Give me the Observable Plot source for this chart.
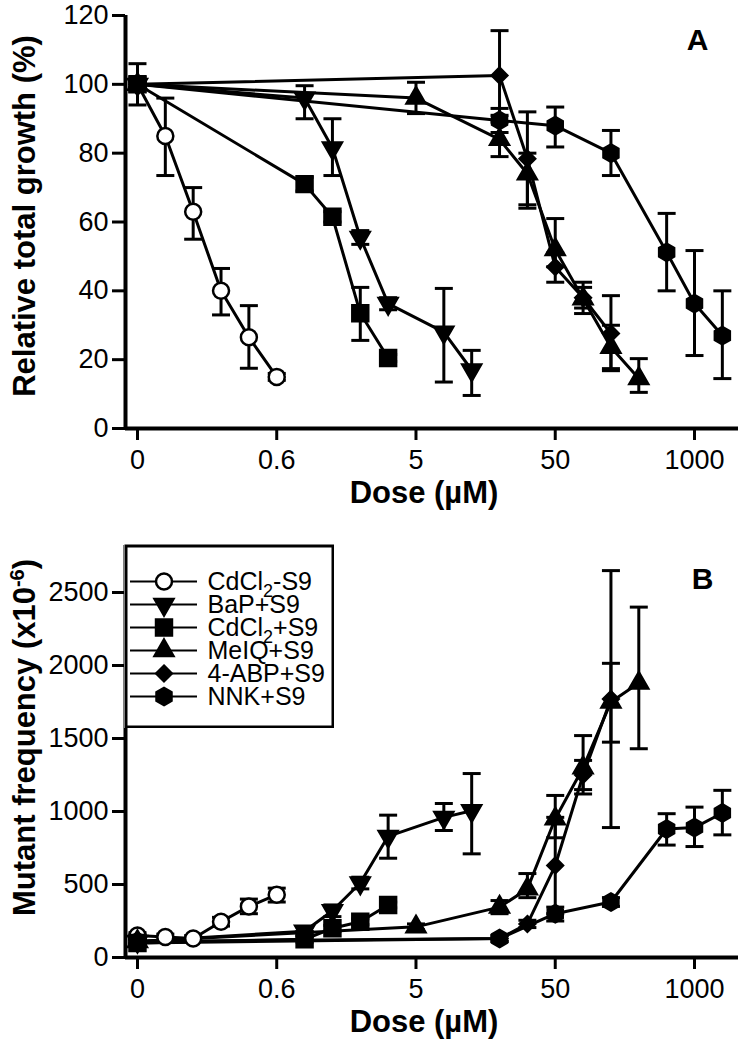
<!DOCTYPE html>
<html><head><meta charset="utf-8">
<script src="https://cdn.jsdelivr.net/npm/d3@7"></script>
<script src="https://cdn.jsdelivr.net/npm/@observablehq/plot@0.6"></script>
<style>
body{margin:0;background:#fff;font-family:"Liberation Sans",Arial,sans-serif;}
#wrap{position:relative;width:743px;height:1050px;}
#legend{position:absolute;left:124px;top:544px;}
</style></head><body><div id="wrap"></div>
<script>
// Axis: doses placed on an evenly spaced (broken) dose axis; tick positions and labels
const doseTicks = [0, 1, 2, 3, 4];
const doseTickLabels = ["0", "0.6", "5", "50", "1000"];
const seriesNames = ["CdCl2-S9", "BaP+S9", "CdCl2+S9", "MeIQ+S9", "4-ABP+S9", "NNK+S9"];

// Panel A: relative total growth (%)  rows: [dose position on axis, mean, lower, upper]
const growthCdCl2Minus = [[0,100,98,102],[0.2,85,73.5,96],[0.4,63,55,70],[0.6,40,33,46.5],[0.8,26.5,17.5,35.7],[1.0,15,14,16]];
const growthBaP = [[0,100,99,101],[1.2,96,90,99.6],[1.4,81.5,73.5,90],[1.6,55.5,53.5,57.5],[1.8,36.3,34.5,38],[2.2,28,13.5,40.7],[2.4,17,9.6,22.7]];
const growthCdCl2Plus = [[0,100,94,106],[1.2,71,69,73],[1.4,61.5,60,63],[1.6,33.5,25.6,41],[1.8,20.5,19.5,21.5]];
const growthMeIQ = [[0,100,99,101],[2.0,96,91.5,100.6],[2.6,84,79,91],[2.8,74,65,80],[3.0,52,47,61],[3.2,37.7,33.4,42.5],[3.4,23.6,16.8,30],[3.6,14.5,10.5,20.3]];
const growth4ABP = [[0,100,99,101],[2.6,102.6,89,115.6],[2.8,78.4,64,92],[3.0,46.9,42.5,51],[3.2,38,35,41],[3.4,27.6,17.4,38.6]];
const growthNNK = [[0,100,99,101],[2.6,89.5,86,93],[3.0,88,81.8,93.4],[3.4,80,73.5,86.6],[3.8,51.2,40,62.5],[4.0,36.3,21.2,51.7],[4.2,27,14.5,40]];

// Panel B: mutant frequency (x10^-6)
const mutCdCl2Minus = [[0,150,130,170],[0.2,140,120,160],[0.4,130,110,150],[0.6,245,215,275],[0.8,350,300,400],[1.0,430,380,475]];
const mutBaP = [[0,110,95,125],[1.2,180,150,210],[1.4,320,280,360],[1.6,510,470,550],[1.8,830,680,975],[2.2,960,870,1055],[2.4,1005,710,1260]];
const mutCdCl2Plus = [[0,100,85,115],[1.2,125,105,145],[1.4,200,180,220],[1.6,245,225,265],[1.8,360,340,380]];
const mutMeIQ = [[0,110,95,125],[2.0,210,190,230],[2.6,345,300,390],[2.8,470,410,575],[3.0,950,820,1110],[3.2,1300,1120,1520],[3.4,1750,1475,2015],[3.6,1880,1430,2400]];
const mut4ABP = [[0,100,85,115],[2.6,130,110,150],[2.8,230,205,255],[3.0,630,300,960],[3.2,1250,1150,1350],[3.4,1770,890,2650]];
const mutNNK = [[0,110,95,125],[2.6,130,110,150],[3.0,300,250,345],[3.4,380,350,410],[3.8,880,770,985],[4.0,890,760,1030],[4.2,990,840,1145]];

const growthTicks = [0, 20, 40, 60, 80, 100, 120];
const mutTicks = [0, 500, 1000, 1500, 2000, 2500];

// styles
const markerStyles = [
  {symbol: "circle", fill: "white", r: 8},
  {symbol: "triangle", fill: "black", r: 7, rotate: 180},
  {symbol: "square", fill: "black", r: 9},
  {symbol: "triangle", fill: "black", r: 7},
  {symbol: "diamond2", fill: "black", r: 7},
  {symbol: "hexagon", fill: "black", r: 7.5}
];
const capSymbol = {draw(ctx, size) { const w = Math.sqrt(size / Math.PI); ctx.moveTo(-w, 0); ctx.lineTo(w, 0); }};
const font = '"Liberation Sans", Arial, sans-serif';
const xDomain = [-0.086, 4.316];

function toRows(sets) {
  return sets.flatMap((s, i) => s.map(([x, y, lo, hi]) => ({series: seriesNames[i], x, y, lo, hi})));
}

function panel({rows, yDomain, yTicks, yLabel, tag, marginTop, marginBottom, tagDx, tagDy, labelDy}) {
  const marks = [
    Plot.line(rows, {x: "x", y: "y", z: "series", stroke: "black", strokeWidth: 3}),
    Plot.ruleX(rows, {x: "x", y1: "lo", y2: "hi", stroke: "black", strokeWidth: 3}),
    Plot.dot(rows, {x: "x", y: "lo", symbol: capSymbol, r: 9, stroke: "black", strokeWidth: 3, fill: "none"}),
    Plot.dot(rows, {x: "x", y: "hi", symbol: capSymbol, r: 9, stroke: "black", strokeWidth: 3, fill: "none"}),
    ...markerStyles.map((st, i) => Plot.dot(rows.filter(d => d.series === seriesNames[i]), {
      x: "x", y: "y", symbol: st.symbol, r: st.r, rotate: st.rotate || 0,
      fill: st.fill, stroke: "black", strokeWidth: 2.5
    })),
    Plot.ruleY([0], {stroke: "black", strokeWidth: 4}),
    Plot.ruleX([xDomain[0]], {stroke: "black", strokeWidth: 4}),
    Plot.axisX({ticks: doseTicks, tickFormat: i => doseTickLabels[i], tickSize: 12, tickPadding: 9, strokeWidth: 3, fontSize: 27, label: null}),
    Plot.axisY({ticks: yTicks, tickFormat: d => String(d), tickSize: 13, tickPadding: 4, strokeWidth: 3, fontSize: 27, label: null}),
    Plot.text([yLabel], {frameAnchor: "left", dx: -100, dy: labelDy, rotate: -90, textAnchor: "middle", fontSize: 31, fontWeight: "bold", text: d => d}),
    Plot.text(["Dose (µM)"], {frameAnchor: "bottom", dy: 74, dx: -8, textAnchor: "middle", fontSize: 31, fontWeight: "bold", text: d => d}),
    Plot.text([tag], {frameAnchor: "top-right", dx: tagDx, dy: tagDy, fontSize: 30, fontWeight: "bold", textAnchor: "end", lineAnchor: "top", text: d => d})
  ];
  return Plot.plot({
    width: 743, height: 525, marginLeft: 125, marginRight: 5, marginTop, marginBottom,
    x: {domain: xDomain}, y: {domain: yDomain},
    style: {fontFamily: font, color: "black", background: "white"},
    marks
  });
}

const wrap = document.getElementById("wrap");
const plotA = panel({
  rows: toRows([growthCdCl2Minus, growthBaP, growthCdCl2Plus, growthMeIQ, growth4ABP, growthNNK]),
  yDomain: [0, 120], yTicks: growthTicks, yLabel: "Relative total growth (%)", tag: "A",
  marginTop: 15, marginBottom: 97, tagDx: -30, tagDy: 13, labelDy: -6
});
const plotB = panel({
  rows: toRows([mutCdCl2Minus, mutBaP, mutCdCl2Plus, mutMeIQ, mut4ABP, mutNNK]),
  yDomain: [0, 2822], yTicks: mutTicks, yLabel: "Mutant frequency (x10-6)", tag: "B",
  marginTop: 20, marginBottom: 93, tagDx: -25, tagDy: 22, labelDy: -14
});
plotA.style.display = "block";
plotB.style.display = "block";
wrap.appendChild(plotA);
wrap.appendChild(plotB);

// superscript in panel B y label
d3.select(plotB).selectAll("text").each(function() {
  const t = this.textContent;
  if (t.startsWith("Mutant frequency")) {
    const s = d3.select(this);
    s.text(null);
    s.append("tspan").text("Mutant frequency (x10");
    s.append("tspan").attr("dy", -11).attr("font-size", 20).text("-6");
    s.append("tspan").attr("dy", 11).text(")");
  }
});

// Legend
const legend = Plot.plot({
  width: 210, height: 184, margin: 1.5,
  x: {domain: [0, 1], range: [6, 73], axis: null},
  y: {type: "point", domain: seriesNames, range: [23, 166], axis: null},
  style: {fontFamily: font, color: "black", background: "white"},
  marks: [
    Plot.frame({stroke: "black", strokeWidth: 3, fill: "white"}),
    Plot.ruleY(seriesNames, {y: d => d, x1: 0, x2: 1, stroke: "black", strokeWidth: 2}),
    ...markerStyles.map((st, i) => Plot.dot([seriesNames[i]], {
      x: () => 0.5, y: d => d, symbol: st.symbol, r: st.r, rotate: st.rotate || 0,
      fill: st.fill, stroke: "black", strokeWidth: 2.5
    })),
    Plot.text(seriesNames, {x: () => 1, y: d => d, text: d => d, dx: 10, textAnchor: "start", fontSize: 25})
  ]
});
legend.id = "legend";
d3.select(legend).selectAll("text").each(function() {
  const t = this.textContent;
  if (t.includes("Cl2")) {
    const [a, b] = t.split("Cl2");
    const s = d3.select(this);
    s.text(null);
    s.append("tspan").text(a + "Cl");
    s.append("tspan").attr("dy", 7).attr("font-size", 18).text("2");
    s.append("tspan").attr("dy", -7).text(b);
  }
});
wrap.appendChild(legend);
</script></body></html>
